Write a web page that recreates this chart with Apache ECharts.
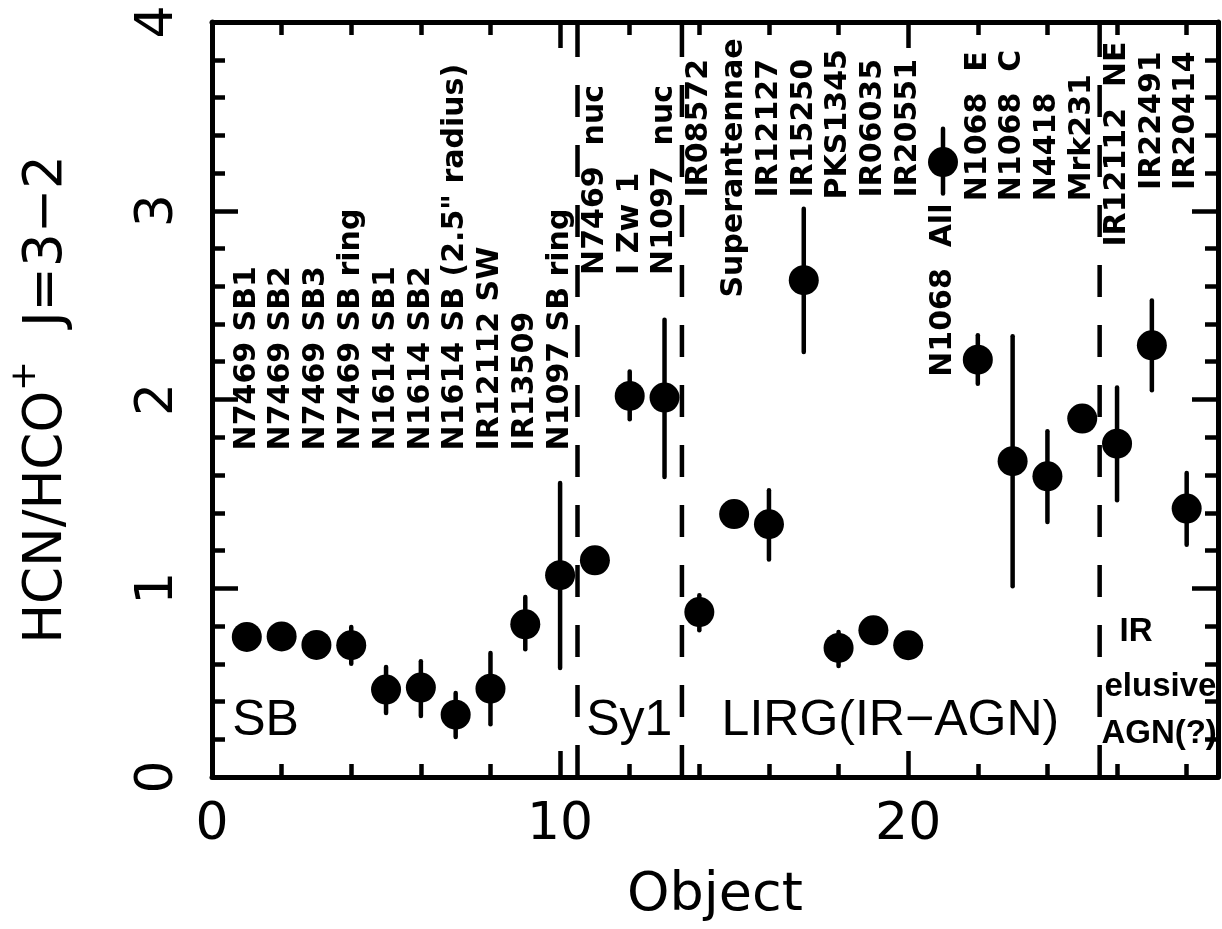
<!DOCTYPE html>
<html><head><meta charset="utf-8">
<script src="https://cdn.jsdelivr.net/npm/echarts@6/dist/echarts.min.js"></script>
<style>html,body{margin:0;padding:0;background:#fff}#c{width:1222px;height:929px}</style>
</head><body><div id="c"></div>
<script>
// ---------- data ----------
const objectX = [1,2,3,4,5,6,7,8,9,10,11,12,13,14,15,16,17,18,19,20,21,22,23,24,25,26,27,28];
const ratio   = [0.742,0.745,0.70,0.698,0.463,0.474,0.33,0.468,0.809,1.069,1.148,2.019,2.01,0.874,1.393,1.339,2.632,0.684,0.777,0.698,3.258,2.211,1.673,1.593,1.899,1.766,2.287,1.422];
const errHigh = [null,null,null,0.795,0.583,0.613,0.445,0.657,0.954,1.558,null,2.149,2.423,0.963,null,1.519,3.011,0.768,null,null,3.435,2.34,2.335,1.832,null,2.063,2.525,1.61];
const errLow  = [null,null,null,0.60,0.339,0.323,0.212,0.279,0.677,0.577,null,1.895,1.589,0.777,null,1.152,2.252,0.588,null,null,3.091,2.084,1.01,1.351,null,1.466,2.049,1.231];
const objectLabels = ['N7469 SB1','N7469 SB2','N7469 SB3','N7469 SB ring','N1614 SB1','N1614 SB2','N1614 SB (2.5" radius)','IR12112 SW','IR13509','N1097 SB ring',
  'N7469  nuc','I Zw 1','N1097  nuc',
  'IR08572','Superantennae','IR12127','IR15250','PKS1345','IR06035','IR20551','N1068  All','N1068  E','N1068  C','N4418','Mrk231',
  'IR12112  NE','IR22491','IR20414'];
const labelBaseY = [1.73,1.73,1.73,1.73,1.73,1.73,1.73,1.73,1.73,1.73,
  2.66,2.66,2.66,
  3.07,2.54,3.07,3.07,3.06,3.07,3.07,2.12,3.05,3.05,3.05,3.05,
  2.81,3.11,3.11];
const dividerX = [10.5, 13.5, 25.5];
const classNames = ['SB','Sy1','LIRG(IR\u2212AGN)'];
const classX = [0.58, 10.75, 14.64];
const classY = [0.295, 0.295, 0.295];
const noteLines = ['IR','elusive','AGN(?)'];
const noteX = [26.07, 25.64, 25.55];
const noteY = [0.769, 0.475, 0.229];
const xTickLabels = [0, 10, 20];
const yTickLabels = [0, 1, 2, 3, 4];
const X_MAX = 28.9, Y_MAX = 4;

// ---------- chart ----------
const chart = echarts.init(document.getElementById('c'), null, {renderer:'canvas'});
const black = '#000';
const lineW = 5, tickW = 4.5;

function xAxisDef(pos, interval, len, withLine, withLabels){
  return {
    type:'value', min:0, max:X_MAX, interval:interval, position:pos,
    axisLine:{show:withLine, onZero:false, lineStyle:{color:black,width:lineW}},
    axisTick:{show:true, inside:true, length:len, lineStyle:{color:black,width:tickW}},
    axisLabel:withLabels ? {show:true, margin:22, color:black, fontSize:52, fontFamily:'DejaVu Sans',
      showMaxLabel:false, formatter:v => xTickLabels.indexOf(v) >= 0 ? String(v) : ''} : {show:false},
    splitLine:{show:false},
    name: withLabels ? 'Object' : '', nameLocation:'middle', nameGap:92,
    nameTextStyle:{color:black, fontSize:54, fontFamily:'DejaVu Sans'}
  };
}
function yAxisDef(pos, withLabels){
  return {
    type:'value', min:0, max:Y_MAX, interval:1, position:pos,
    axisLine:{show:true, onZero:false, lineStyle:{color:black,width:lineW}},
    axisTick:{show:true, inside:true, length:26, lineStyle:{color:black,width:tickW}},
    minorTick:{show:true, splitNumber:5, length:13, lineStyle:{color:black,width:tickW}},
    axisLabel:withLabels ? {show:true, rotate:90, margin:28, color:black, fontSize:52, fontFamily:'DejaVu Sans',
      formatter:v => yTickLabels.indexOf(v) >= 0 ? String(v) : ''} : {show:false},
    splitLine:{show:false}, minorSplitLine:{show:false},
    name: withLabels ? 'HCN/HCO{sup|+}  J=3\u22122' : '', nameLocation:'middle', nameGap:126, nameRotate:90,
    nameTextStyle:{color:black, fontSize:53, fontFamily:'DejaVu Sans',
      rich:{sup:{fontSize:36, fontFamily:'DejaVu Sans', color:black, padding:[0,0,42,0]}}}
  };
}

const errData = [];
objectX.forEach((x,i) => { if (errHigh[i] != null) errData.push([x, errLow[i], errHigh[i]]); });

const option = {
  animation:false,
  backgroundColor:'#fff',
  grid:{left:206, right:4, top:22, bottom:152, containLabel:false},
  xAxis:[ xAxisDef('bottom',10,26,true,true), xAxisDef('bottom',2,13,false,false),
          xAxisDef('top',10,26,true,false),   xAxisDef('top',2,13,false,false) ],
  yAxis:[ yAxisDef('left',true), yAxisDef('right',false) ],
  series:[
    { type:'custom', name:'dividers', xAxisIndex:0, yAxisIndex:0, silent:true, z:1,
      data: dividerX.map(x => [x, 0]),
      renderItem:(params, api) => {
        const p0 = api.coord([api.value(0), 0]);
        const p1 = api.coord([api.value(0), Y_MAX]);
        return {type:'line', shape:{x1:p0[0],y1:p0[1],x2:p1[0],y2:p1[1]},
          style:{stroke:black, lineWidth:tickW, lineDash:[32,28], lineCap:'butt'}};
      }
    },
    { type:'custom', name:'errors', xAxisIndex:0, yAxisIndex:0, silent:true, z:2,
      data: errData,
      renderItem:(params, api) => {
        const lo = api.coord([api.value(0), api.value(1)]);
        const hi = api.coord([api.value(0), api.value(2)]);
        return {type:'line', shape:{x1:lo[0],y1:lo[1],x2:hi[0],y2:hi[1]},
          style:{stroke:black, lineWidth:tickW, lineCap:'round'}};
      }
    },
    { type:'scatter', name:'ratio', xAxisIndex:0, yAxisIndex:0, z:3,
      data: objectX.map((x,i) => [x, ratio[i]]),
      symbol:'circle', symbolSize:30, itemStyle:{color:black, opacity:1} },
    { type:'custom', name:'objectLabels', xAxisIndex:0, yAxisIndex:0, silent:true, z:4,
      data: objectX.map((x,i) => [x, labelBaseY[i], i]),
      renderItem:(params, api) => {
        const p = api.coord([api.value(0), api.value(1)]);
        return {type:'text', x:p[0], y:p[1], rotation:Math.PI/2,
          style:{text:objectLabels[api.value(2)], x:0, y:0, fill:black,
            font:'bold 30px "DejaVu Sans"', align:'left', verticalAlign:'middle'}};
      }
    },
    { type:'custom', name:'classes', xAxisIndex:0, yAxisIndex:0, silent:true, z:4,
      data: classNames.map((n,i) => [classX[i], classY[i], i]),
      renderItem:(params, api) => {
        const p = api.coord([api.value(0), api.value(1)]);
        return {type:'text', x:p[0], y:p[1],
          style:{text:classNames[api.value(2)], x:0, y:0, fill:black,
            font:'50px "Liberation Sans"', align:'left', verticalAlign:'middle'}};
      }
    },
    { type:'custom', name:'notes', xAxisIndex:0, yAxisIndex:0, silent:true, z:4,
      data: noteLines.map((n,i) => [noteX[i], noteY[i], i]),
      renderItem:(params, api) => {
        const p = api.coord([api.value(0), api.value(1)]);
        return {type:'text', x:p[0], y:p[1],
          style:{text:noteLines[api.value(2)], x:0, y:0, fill:black,
            font:'bold 33px "Liberation Sans"', align:'left', verticalAlign:'middle'}};
      }
    }
  ]
};
chart.setOption(option);
</script>
</body></html>
